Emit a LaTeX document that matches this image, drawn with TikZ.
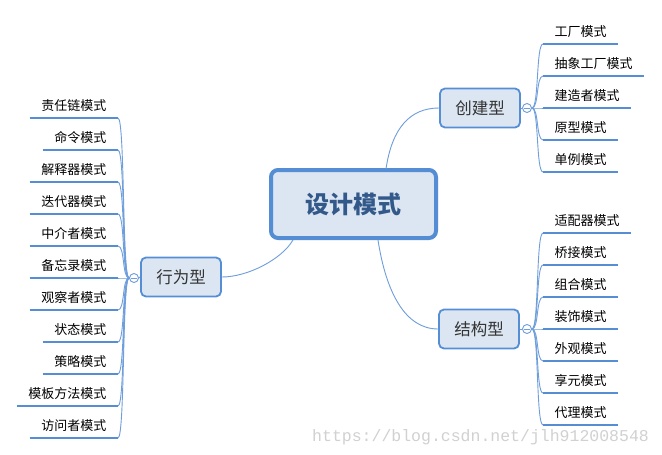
\documentclass[tikz,border=0pt]{standalone}
\usepackage{fontspec}
\setmainfont{Noto Sans CJK SC}
\setmonofont{Liberation Mono}
\definecolor{mblue}{HTML}{558ED5}
\definecolor{lblue}{HTML}{6E9EDB}
\definecolor{lfill}{HTML}{DCE6F2}
\definecolor{rootborder}{HTML}{548DD4}
\definecolor{roottext}{HTML}{33598A}
\definecolor{dgray}{HTML}{333333}
\begin{document}
\begin{tikzpicture}[x=1pt,y=-1pt,
  conn/.style={draw=lblue, line width=0.9pt},
  uline/.style={draw=mblue, line width=2.9pt},
  leaf/.style={font=\fontsize{13}{13}\selectfont, inner xsep=11.5pt, inner ysep=0pt, text height=10pt, text depth=7pt, text=black},
  rleaf/.style={leaf, anchor=south west},
  lleaf/.style={leaf, anchor=south east},
  branch/.style={draw=mblue, line width=1.8pt, fill=lfill, rounded corners=5pt, minimum width=80pt, minimum height=39pt, inner sep=0pt, font=\fontsize{16.5}{16.5}\selectfont, text=dgray},
  rootbox/.style={draw=rootborder, line width=4pt, fill=lfill, rounded corners=7pt, minimum width=165pt, minimum height=68pt, inner sep=0pt, font=\fontsize{24}{24}\selectfont\bfseries, text=roottext},
  knob/.style={circle, draw=lblue, line width=0.9pt, fill=white, minimum size=9pt, inner sep=0pt},
  minusbar/.style={draw=lblue, line width=0.8pt},
  wm/.style={font=\ttfamily\fontsize{16.5}{16.5}\selectfont, text=black!18, anchor=base west, inner sep=0pt}
]
\useasboundingbox[fill=white] (0,0) rectangle (662,455);

% root
\node[rootbox] (root) at (353.5,204) {设计模式};

% branches
\node[branch] (cj) at (480,108) {创建型};
\node[branch] (jg) at (479,329) {结构型};
\node[branch] (xw) at (181,277) {行为型};

% knobs
\node[knob] (cjk) at (527,108) {};
\node[knob] (jgk) at (527,329) {};
\node[knob] (xwk) at (134,278) {};
\foreach \k in {cjk,jgk,xwk}{
  \draw[minusbar] ([xshift=2pt]\k.west) -- ([xshift=-2pt]\k.east);
}

% root connectors
\draw[conn] (386,169) .. controls (392,128) and (410,108) .. (cj.west);
\draw[conn] (378,240) .. controls (386,292) and (405,329) .. (jg.west);
\draw[conn] (293,240) .. controls (282,259) and (248,277) .. (xw.east);
\draw[conn] (cj.east) -- (cjk.west);
\draw[conn] (jg.east) -- (jgk.west);
\draw[conn] (xw.west) -- (xwk.east);

% right leaves: creational
\node[rleaf] (r1) at (543,44) {工厂模式};
\node[rleaf] (r2) at (543,76) {抽象工厂模式};
\node[rleaf] (r3) at (543,108) {建造者模式};
\node[rleaf] (r4) at (543,140) {原型模式};
\node[rleaf] (r5) at (543,172) {单例模式};
\foreach \n in {r1,r2,r3,r4,r5}{
  \draw[uline] (\n.south west) -- (\n.south east);
  \draw[conn] (cjk.east) .. controls +(7,0) and +(-7,0) .. (\n.south west);
}

% right leaves: structural
\node[rleaf] (s1) at (543,233) {适配器模式};
\node[rleaf] (s2) at (543,265) {桥接模式};
\node[rleaf] (s3) at (543,297) {组合模式};
\node[rleaf] (s4) at (543,329) {装饰模式};
\node[rleaf] (s5) at (543,361) {外观模式};
\node[rleaf] (s6) at (543,393) {享元模式};
\node[rleaf] (s7) at (543,425) {代理模式};
\foreach \n in {s1,s2,s3,s4,s5,s6,s7}{
  \draw[uline] (\n.south west) -- (\n.south east);
  \draw[conn] (jgk.east) .. controls +(7,0) and +(-7,0) .. (\n.south west);
}

% left leaves: behavioral
\node[lleaf] (l1) at (118,118) {责任链模式};
\node[lleaf] (l2) at (118,150) {命令模式};
\node[lleaf] (l3) at (118,182) {解释器模式};
\node[lleaf] (l4) at (118,214) {迭代器模式};
\node[lleaf] (l5) at (118,246) {中介者模式};
\node[lleaf] (l6) at (118,278) {备忘录模式};
\node[lleaf] (l7) at (118,310) {观察者模式};
\node[lleaf] (l8) at (118,342) {状态模式};
\node[lleaf] (l9) at (118,374) {策略模式};
\node[lleaf] (l10) at (118,406) {模板方法模式};
\node[lleaf] (l11) at (118,438) {访问者模式};
\foreach \n in {l1,l2,l3,l4,l5,l6,l7,l8,l9,l10,l11}{
  \draw[uline] (\n.south west) -- (\n.south east);
  \draw[conn] (xwk.west) .. controls +(-7,0) and +(7,0) .. (\n.south east);
}

% watermark
\node[wm] (wmk) at (312,441) {https://blog.csdn.net/jlh912008548};
\end{tikzpicture}
\end{document}
